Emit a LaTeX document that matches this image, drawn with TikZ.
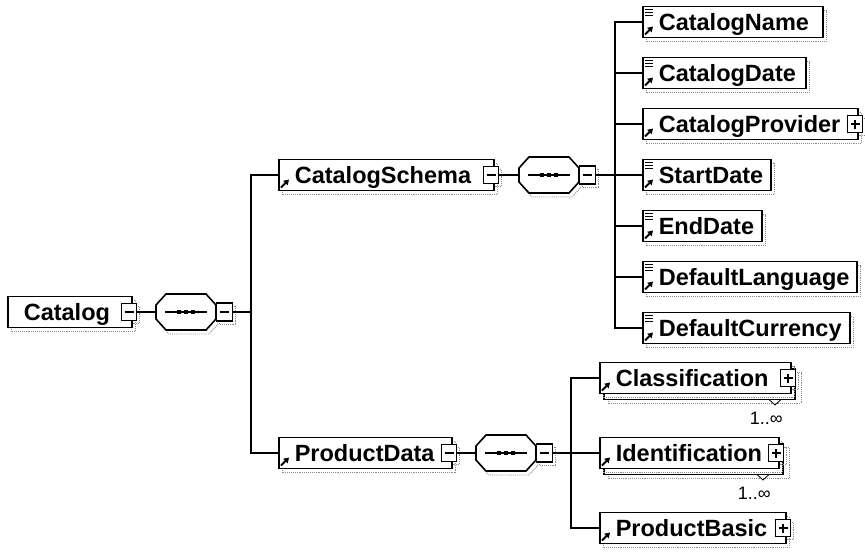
\documentclass[tikz,border=0pt]{standalone}
\usepackage{fontspec}
\setmainfont{Liberation Sans}
\usetikzlibrary{arrows.meta}
\tikzset{
  elbox/.style={draw=black, line width=1.6pt, fill=white, inner sep=0pt, minimum height=31pt, anchor=west, font=\fontsize{23.5}{26}\selectfont\bfseries, text height=17.5pt, text depth=1pt},
  shadowline/.style={draw=black!45, densely dotted, line width=0.9pt},
  conn/.style={line width=1.5pt, draw=black},
  sqbox/.style={draw=black, line width=1.3pt, fill=white, minimum width=15pt, minimum height=17pt, inner sep=0pt},
  signline/.style={line width=1.2pt},
  seqshape/.style={draw=black, line width=1.6pt, fill=white},
  cardlabel/.style={font=\fontsize{18}{20}\selectfont, inner sep=0pt, anchor=base east},
  refarrow/.style={line width=1.8pt, -{Triangle[length=5pt,width=6pt]}},
  notchline/.style={line width=0.8pt, draw=black},
}
% #1 name, #2 left, #3 center y, #4 width, #5 text, #6 icons, #7 square
\newcommand{\mkelem}[7]{%
  \draw[shadowline] ({#2+4},{-#3+11.5}) rectangle ({#2+#4+4},{-#3-19.5});
  \ifnum#7>0 \draw[shadowline] ({#2+#4-6.5},{-#3-11.5}) rectangle ({#2+#4+8.5},{-#3+5.5}); \fi
  \node[elbox] (#1) at (#2,-#3) {\makebox[#4pt][l]{\hspace{16pt}#5}};
  \ifnum#6>0 \draw[refarrow] ({#2+3},{-#3-12.5}) -- ({#2+11},{-#3-4.5}); \fi
  \ifnum#6>1 \foreach \k in {0,1,2} \draw[line width=1.1pt] ({#2+3},{-#3+12.5-2.8*\k}) -- ++(8,0); \fi
  \ifnum#7>0 \node[sqbox] (#1m) at ({#2+#4-2},{-#3}) {};
    \draw[signline] ({#2+#4-6.5},{-#3}) -- ({#2+#4+2.5},{-#3}); \fi
  \ifnum#7>1 \draw[signline] ({#2+#4-2},{-#3-4.5}) -- ({#2+#4-2},{-#3+4.5}); \fi
}
% back box of a repeated element: #1 left, #2 center y, #3 width
\newcommand{\mkback}[3]{%
  \draw[shadowline] ({#1+9},{-#2+5.5}) rectangle ({#1+#3+11},{-#2-25.5});
  \draw[line width=1.6pt, fill=white] ({#1+5},{-#2+9.5}) rectangle ({#1+#3+5},{-#2-21.5});
}
% sequence compositor: #1 name, #2 cx, #3 cy
\newcommand{\mkseq}[3]{%
  \begin{scope}[shift={(#2,-#3)}]
    \draw[shadowline, shift={(3,-4)}] (-20,18) -- (20,18) -- (30,7) -- (30,-7) -- (20,-18) -- (-20,-18) -- (-30,-7) -- (-30,7) -- cycle;
    \draw[shadowline] (33.5,-12) rectangle (49.5,6);
    \draw[seqshape] (-20,18) -- (20,18) -- (30,7) -- (30,-7) -- (20,-18) -- (-20,-18) -- (-30,-7) -- (-30,7) -- cycle;
    \node[inner sep=0pt, minimum width=60pt, minimum height=36pt] (#1) at (0,0) {};
    \draw[line width=1.2pt] (-21,0) -- (21,0);
    \foreach \d in {-7,0,7} \fill ({\d-2.2},-2.2) rectangle ++(4.4,4.4);
    \node[sqbox, minimum width=16pt, minimum height=18pt] (#1m) at (38.5,0) {};
    \draw[signline] (34,0) -- (43,0);
  \end{scope}
}
\begin{document}
\begin{tikzpicture}[x=1pt,y=1pt]
\useasboundingbox (0,0) rectangle (865,-555);
% level 0
\mkelem{cat}{7}{312}{124}{Catalog}{0}{1}
\mkseq{seqA}{186}{312}
% level 1
\mkelem{schema}{278}{175}{215}{CatalogSchema}{1}{1}
\mkseq{seqB}{549}{175}
\mkelem{pdata}{278}{453}{173}{ProductData}{1}{1}
\mkseq{seqC}{506}{453}
% level 2
\mkelem{cname}{642}{22}{180}{CatalogName}{2}{0}
\mkelem{cdate}{642}{73}{163}{CatalogDate}{2}{0}
\mkelem{cprov}{642}{124}{215}{CatalogProvider}{1}{2}
\mkelem{sdate}{642}{175}{128}{StartDate}{2}{0}
\mkelem{edate}{642}{226}{119}{EndDate}{2}{0}
\mkelem{dlang}{642}{277}{214}{DefaultLanguage}{2}{0}
\mkelem{dcurr}{642}{328}{207}{DefaultCurrency}{2}{0}
\mkback{599}{378}{191}
\mkelem{classif}{599}{378}{191}{Classification}{1}{2}
\mkback{599}{453}{179}
\mkelem{ident}{599}{453}{179}{Identification}{1}{2}
\mkelem{pbasic}{599}{528}{186}{ProductBasic}{1}{2}
% cardinality
\draw[notchline] (769,-399.5) -- (775,-405) -- (781,-399.5);
\node[cardlabel] (classifcard) at (783,-424) {1..∞};
\draw[notchline] (757,-474.5) -- (763,-480) -- (769,-474.5);
\node[cardlabel] (identcard) at (771,-499) {1..∞};
% connectors
\draw[conn] (catm.east) -- (seqA.west);
\coordinate (busA) at (251,-312);
\draw[conn] (seqAm.east) -- (busA);
\draw[conn] (schema.west) -| (busA) |- (pdata.west);
\draw[conn] (schemam.east) -- (seqB.west);
\draw[conn] (pdatam.east) -- (seqC.west);
\coordinate (busB) at (615,-175);
\draw[conn] (seqBm.east) -- (busB);
\draw[conn] (cname.west) -| (busB) |- (dcurr.west);
\foreach \n in {cdate,cprov,sdate,edate,dlang} \draw[conn] (busB |- \n.west) -- (\n.west);
\coordinate (busC) at (571,-453);
\draw[conn] (seqCm.east) -- (busC);
\draw[conn] (classif.west) -| (busC) |- (pbasic.west);
\draw[conn] (busC |- ident.west) -- (ident.west);
\end{tikzpicture}
\end{document}
